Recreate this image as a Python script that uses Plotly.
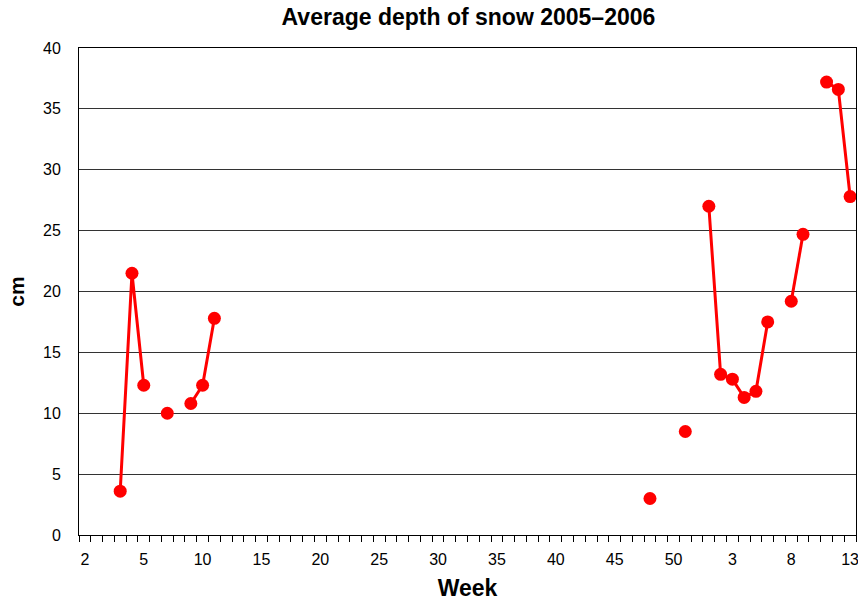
import plotly.graph_objects as go

# position on the week axis (0 = first category, 53 = week 1 of 2006)
week_pos = [3, 4, 5, 6, 7, 8, 9, 10, 11, 12,
            48, 49, 50, 51, 52, 53, 54, 55, 56, 57, 58, 59, 60, 61, 62, 63, 64, 65]
# snow depth in cm, None = no measurement (breaks the line)
depth = [3.6, 21.5, 12.3, None, 10.0, None, 10.8, 12.3, 17.8, None,
         3.0, None, None, 8.5, None, 27.0, 13.2, 12.8, 11.3, 11.8, 17.5, None, 19.2, 24.7, None, 37.2, 36.6, 27.8]

tick_pos = [0, 5, 10, 15, 20, 25, 30, 35, 40, 45, 50, 55, 60, 65]
tick_labels = ["2", "5", "10", "15", "20", "25", "30", "35", "40", "45", "50", "3", "8", "13"]

font = "Liberation Sans, Arial, sans-serif"

fig = go.Figure()
fig.add_trace(go.Scatter(
    x=week_pos, y=depth, mode="lines+markers",
    line=dict(color="#FF0000", width=3),
    marker=dict(color="#FF0000", size=13),
    connectgaps=False, showlegend=False, cliponaxis=False,
))

fig.update_layout(
    width=858, height=608,
    margin=dict(l=79, r=2, t=48, b=73),
    paper_bgcolor="white", plot_bgcolor="white",
    font=dict(family=font, size=16, color="black"),
    title=dict(text="<b>Average depth of snow 2005\u20132006</b>", x=0.546, xanchor="center",
               y=0.972, yanchor="middle", font=dict(size=23)),
    showlegend=False,
)

fig.update_xaxes(
    range=[-0.5, 65.5], tickmode="array", tickvals=tick_pos, ticktext=tick_labels,
    ticks="", showgrid=False, zeroline=False, ticklabeloverflow="allow",
    ticklabelstandoff=10,
    showline=True, linecolor="black", linewidth=1, mirror=True,
    minor=dict(tickmode="linear", tick0=-0.5, dtick=1, ticks="outside",
               ticklen=6, tickcolor="black", tickwidth=1, showgrid=False),
    title=dict(text="<b>Week</b>", font=dict(size=23), standoff=12),
    automargin=False,
)
fig.update_yaxes(
    range=[0, 40], dtick=5, ticks="", ticklabelstandoff=14,
    showgrid=True, gridcolor="#333333", gridwidth=1, zeroline=False,
    showline=True, linecolor="black", linewidth=1, mirror=True,
    title=dict(text="<b>cm</b>", font=dict(size=21), standoff=12),
    automargin=False,
)

# drop the default 8px body margin so the figure fills the window
fig.write_html("out.html", config={"displayModeBar": False},
               post_script="document.body.style.margin='0';")
